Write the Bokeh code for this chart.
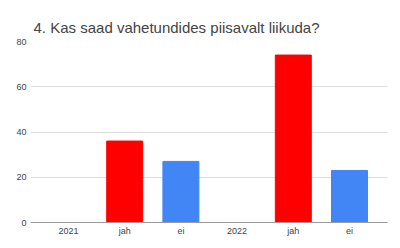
from bokeh.plotting import figure
from bokeh.models import ColumnDataSource, FixedTicker, Range1d, Title
from bokeh.embed import file_html
from bokeh.resources import INLINE

title_text = "4. Kas saad vahetundides piisavalt liikuda?"
categories = ["2021", "jah", "ei", "2022", "jah", "ei"]
values = [None, 36, 27, None, 74, 23]
colors = ["#ff0000", "#ff0000", "#4285f4", "#ff0000", "#ff0000", "#4285f4"]
y_ticks = [0, 20, 40, 60, 80]

xs = [i for i, v in enumerate(values) if v is not None]
tops = [v for v in values if v is not None]
cols = [colors[i] for i in xs]
src = ColumnDataSource(dict(x=xs, top=tops, color=cols))

p = figure(width=400, height=248, output_backend="svg", toolbar_location=None,
           x_range=Range1d(-0.676, 5.676), y_range=Range1d(0, 80),
           min_border_left=30, min_border_right=13, min_border_bottom=26,
           min_border_top=41)
p.title = Title(text=title_text, text_font="Liberation Sans", text_font_size="15px",
                text_font_style="normal", text_color="#444444", offset=3, standoff=11)
p.outline_line_color = None

p.vbar(x="x", top="top", width=0.64, source=src, fill_color="color",
       line_color="color", line_width=1)

p.xaxis.ticker = FixedTicker(ticks=list(range(len(categories))))
p.xaxis.major_label_overrides = {i: c for i, c in enumerate(categories)}
p.xaxis.major_tick_line_color = None
p.xaxis.minor_tick_line_color = None
p.xaxis.major_tick_out = 0
p.xaxis.minor_tick_out = 0
p.xaxis.axis_line_color = "#999999"
p.xaxis.major_label_text_font = "Liberation Sans"
p.xaxis.major_label_text_font_size = "9px"
p.xaxis.major_label_text_color = "#444444"
p.xaxis.major_label_standoff = 3

p.yaxis.ticker = FixedTicker(ticks=y_ticks)
p.yaxis.axis_line_color = None
p.yaxis.major_tick_line_color = None
p.yaxis.minor_tick_line_color = None
p.yaxis.major_tick_out = 0
p.yaxis.minor_tick_out = 0
p.yaxis.major_label_text_font = "Liberation Sans"
p.yaxis.major_label_text_font_size = "9px"
p.yaxis.major_label_text_color = "#444444"
p.yaxis.major_label_standoff = 4

p.xgrid.grid_line_color = None
p.ygrid.ticker = FixedTicker(ticks=y_ticks)
p.ygrid.grid_line_color = "#dddddd"

open("out.html", "w").write(file_html(p, INLINE))
